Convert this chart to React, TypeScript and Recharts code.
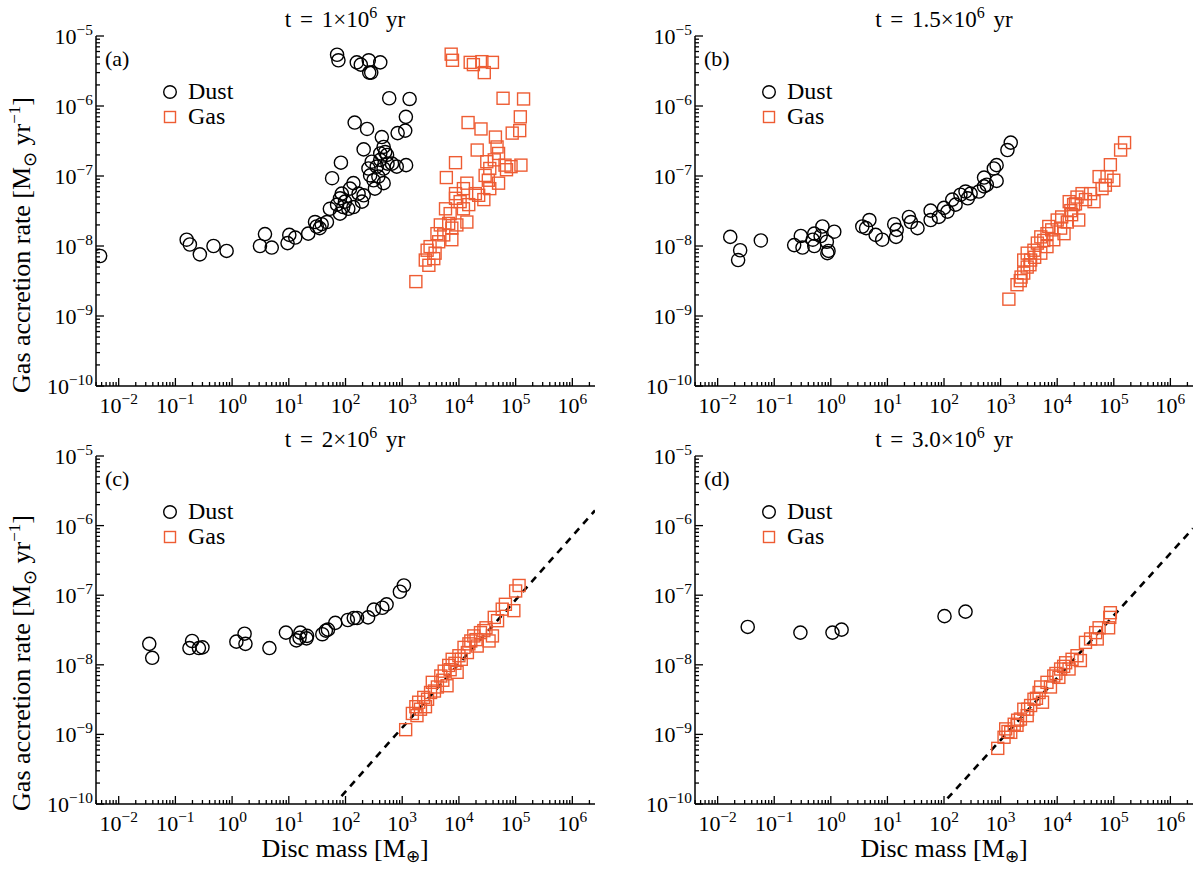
import React from 'react';
import { ScatterChart, Scatter, XAxis, YAxis, ReferenceLine, Legend } from 'recharts';

const FONT = '"Liberation Serif", "Times New Roman", serif';
const ORANGE = '#ee5c33';

// axis ranges and tick labels
const X_DOMAIN = [0.00398, 2.51e6];
const Y_DOMAIN = [1e-10, 1e-5];
const X_MAJOR = [1e-2, 1e-1, 1, 10, 100, 1e3, 1e4, 1e5, 1e6];
const X_EXP = ['−2', '−1', '0', '1', '2', '3', '4', '5', '6'];
const Y_MAJOR = [1e-10, 1e-9, 1e-8, 1e-7, 1e-6, 1e-5];
const Y_EXP = ['−10', '−9', '−8', '−7', '−6', '−5'];

// [disc mass (M_earth), accretion rate (M_sun/yr)]
const dustA = [
  [71, 5.4e-6], [75, 4.5e-6], [158, 4.2e-6], [186, 3.9e-6], [257, 4.5e-6], [284, 3.0e-6], [262, 3.0e-6], [410, 4.2e-6],
  [590, 1.29e-6], [1350, 1.26e-6], [1160, 7.0e-7], [1130, 4.45e-7], [830, 4.1e-7], [145, 5.8e-7], [240, 4.7e-7], [437, 3.6e-7],
  [209, 2.4e-7], [470, 2.6e-7], [500, 2.2e-7], [540, 2.0e-7], [410, 2.1e-7], [83, 1.55e-7], [58, 9.3e-8], [290, 1.6e-7],
  [410, 1.7e-7], [660, 1.5e-7], [550, 1.5e-7], [800, 1.36e-7], [1170, 1.43e-7], [355, 1.36e-7], [470, 1.28e-7], [254, 1.28e-7],
  [272, 1.02e-7], [380, 9.8e-8], [312, 8.7e-8], [470, 7.9e-8], [330, 6.6e-8], [138, 7.9e-8], [120, 6.6e-8], [86, 5.6e-8],
  [80, 4.8e-8], [98, 4.3e-8], [170, 5.6e-8], [209, 5.3e-8], [195, 4.3e-8], [138, 3.6e-8], [112, 3.4e-8], [80, 2.9e-8],
  [71, 3.9e-8], [53, 3.4e-8], [91, 3.6e-8], [47, 2.2e-8], [38, 2.05e-8], [31, 1.9e-8], [29, 2.2e-8], [35, 1.8e-8],
  [22, 1.5e-8], [13, 1.32e-8], [10.2, 1.44e-8], [9.5, 1.1e-8], [3.8, 1.48e-8], [3.1, 1.0e-8], [5.0, 9.5e-9],
  [0.158, 1.23e-8], [0.18, 1.05e-8], [0.27, 7.6e-9], [0.47, 1.0e-8], [0.8, 8.5e-9], [0.0047, 7.2e-9],
];
const gasA = [
  [7300, 5.5e-6], [7700, 4.5e-6], [15800, 4.2e-6], [18000, 3.9e-6], [25400, 4.3e-6], [28000, 3.0e-6], [39000, 4.2e-6],
  [60000, 1.29e-6], [138000, 1.26e-6], [121000, 7.0e-7], [118000, 4.45e-7], [87000, 4.1e-7], [14500, 5.8e-7], [24500, 4.7e-7],
  [44000, 3.6e-7], [21000, 2.35e-7], [47000, 2.6e-7], [50000, 2.1e-7], [8700, 1.55e-7], [6000, 9.5e-8], [31000, 1.6e-7],
  [42000, 1.7e-7], [65000, 1.43e-7], [83000, 1.36e-7], [124000, 1.43e-7], [69000, 1.23e-7], [35000, 1.28e-7], [29000, 1.02e-7],
  [33000, 8.7e-8], [50000, 7.9e-8], [13800, 7.9e-8], [12000, 6.6e-8], [35000, 6.6e-8], [8700, 5.6e-8], [8700, 4.8e-8],
  [10500, 4.3e-8], [19500, 5.6e-8], [22300, 5.3e-8], [27500, 4.6e-8], [14900, 3.9e-8], [12000, 3.4e-8], [5800, 3.4e-8],
  [7000, 2.9e-8], [13800, 2.2e-8], [9200, 2.0e-8], [7500, 1.8e-8], [6600, 2.1e-8], [4700, 2.0e-8], [5400, 1.44e-8],
  [4100, 1.5e-8], [7500, 1.23e-8], [4400, 1.15e-8], [3100, 9.8e-9], [2750, 8.7e-9], [3800, 7.9e-9], [2550, 6.3e-9],
  [2950, 5.3e-9], [3600, 6.6e-9], [1740, 3.1e-9],
];
const dustB = [
  [0.0167, 1.35e-8], [0.025, 8.7e-9], [0.023, 6.3e-9], [0.058, 1.2e-8], [0.225, 1.03e-8], [0.295, 1.39e-8], [0.316, 9.5e-9],
  [0.48, 1.23e-8], [0.51, 1.0e-8], [0.51, 1.5e-8], [0.71, 1.9e-8], [0.66, 1.39e-8], [0.85, 1.15e-8], [0.91, 8.5e-9],
  [0.87, 7.9e-9], [1.15, 1.6e-8], [3.6, 1.9e-8], [4.8, 2.35e-8], [4.2, 1.8e-8], [6.2, 1.44e-8], [8.1, 1.23e-8],
  [13.2, 2.05e-8], [14.6, 1.7e-8], [14.2, 1.35e-8], [24, 2.6e-8], [26, 2.2e-8], [34, 1.8e-8], [58, 3.2e-8], [58, 2.35e-8],
  [81, 2.6e-8], [100, 3.5e-8], [115, 3.1e-8], [140, 4.6e-8], [160, 3.9e-8], [195, 5.4e-8], [240, 6.0e-8], [263, 4.8e-8],
  [295, 5.6e-8], [415, 6.0e-8], [510, 7.1e-8], [570, 7.5e-8], [510, 9.5e-8], [850, 8.5e-8], [760, 1.28e-7], [850, 1.43e-7],
  [1320, 2.35e-7], [1510, 3.0e-7],
];
const gasB = [
  [1400, 1.74e-9], [1950, 2.8e-9], [2230, 3.2e-9], [2560, 4.1e-9], [2950, 5.0e-9], [2560, 6.3e-9], [3390, 6.3e-9],
  [2950, 7.9e-9], [3880, 8.7e-9], [4460, 1.1e-8], [5130, 7.9e-9], [5130, 1.35e-8], [6600, 1.5e-8], [7100, 1.9e-8],
  [6600, 9.8e-9], [8700, 1.23e-8], [10000, 2.35e-8], [11500, 1.8e-8], [13200, 1.5e-8], [15100, 2.2e-8], [17400, 3.2e-8],
  [16300, 4.3e-8], [19500, 3.9e-8], [22400, 5.0e-8], [24000, 2.35e-8], [27500, 5.6e-8], [31600, 4.6e-8], [38900, 5.6e-8],
  [44700, 4.3e-8], [55000, 9.8e-8], [62000, 6.6e-8], [71000, 7.4e-8], [76000, 9.8e-8], [87000, 1.45e-7], [100000, 8.7e-8],
  [132000, 2.35e-7], [155000, 3.0e-7], [2300, 3.6e-9], [3300, 5.4e-9], [4000, 6.9e-9], [5800, 1.2e-8], [8000, 1.7e-8],
  [12000, 2.6e-8], [18000, 2.8e-8], [21000, 4.0e-8],
];
const dustC = [
  [0.0346, 2.0e-8], [0.039, 1.26e-8], [0.197, 2.2e-8], [0.177, 1.74e-8], [0.26, 1.74e-8], [0.30, 1.78e-8], [1.19, 2.15e-8],
  [1.66, 2.8e-8], [1.72, 2.0e-8], [4.55, 1.74e-8], [8.9, 2.9e-8], [13.6, 2.24e-8], [16, 2.9e-8], [15.5, 2.45e-8],
  [21, 2.6e-8], [20.5, 2.4e-8], [39, 2.75e-8], [45, 3.1e-8], [49, 3.2e-8], [66, 4.0e-8], [110, 4.4e-8], [140, 4.7e-8],
  [160, 4.7e-8], [250, 4.8e-8], [316, 6.2e-8], [445, 6.6e-8], [530, 7.4e-8], [910, 1.12e-7], [1070, 1.38e-7],
];
const gasC = [
  [1150, 1.17e-9], [1510, 2.0e-9], [1740, 2.5e-9], [1950, 2.9e-9], [1820, 1.86e-9], [2400, 3.4e-9], [2570, 2.5e-9],
  [3160, 4.0e-9], [3390, 5.6e-9], [4170, 4.8e-9], [4790, 6.9e-9], [5500, 8.1e-9], [6170, 5.0e-9], [6600, 9.8e-9],
  [7600, 1.2e-8], [9300, 7.8e-9], [10000, 1.35e-8], [12300, 1.78e-8], [14100, 1.5e-8], [16200, 2.2e-8], [18300, 2.6e-8],
  [21000, 1.86e-8], [24000, 2.9e-8], [27500, 3.1e-8], [34000, 2.2e-8], [39000, 2.6e-8], [42000, 4.8e-8], [48000, 4.3e-8],
  [58000, 6.3e-8], [66000, 7.4e-8], [93000, 6.0e-8], [100000, 1.15e-7], [115000, 1.38e-7], [2100, 2.3e-9], [2800, 3.2e-9],
  [3700, 4.2e-9], [5200, 6.0e-9], [7000, 8.5e-9], [8500, 1.05e-8], [11000, 1.2e-8], [15000, 2.0e-8], [20000, 2.3e-8],
  [30000, 3.4e-8],
];
const dustD = [
  [0.034, 3.5e-8], [0.29, 2.9e-8], [1.07, 2.9e-8], [1.55, 3.2e-8], [102, 5.0e-8], [240, 5.8e-8],
];
const gasD = [
  [890, 6.3e-10], [1150, 9.1e-10], [1230, 1.2e-9], [1510, 1.07e-9], [1740, 1.4e-9], [1950, 1.35e-9], [2240, 1.66e-9],
  [2570, 2.3e-9], [2950, 1.86e-9], [3390, 2.6e-9], [3890, 3.2e-9], [4790, 4.0e-9], [5500, 2.9e-9], [5100, 4.8e-9],
  [6600, 5.6e-9], [7600, 4.8e-9], [8700, 6.9e-9], [10700, 6.6e-9], [11500, 8.7e-9], [14100, 1.07e-8], [16200, 8.7e-9],
  [18300, 1.2e-8], [22400, 1.35e-8], [25700, 1.15e-8], [31600, 2.1e-8], [38900, 2.35e-8], [47800, 2.9e-8], [55000, 3.4e-8],
  [51000, 2.35e-8], [81000, 3.4e-8], [87000, 5.6e-8], [85000, 4.8e-8], [1350, 1.1e-9], [2000, 1.6e-9], [3000, 2.3e-9],
  [4300, 3.3e-9], [9500, 7.5e-9], [13000, 9.5e-9],
];
// dashed power-law guide lines, endpoints [mass, rate]
const fitC = [[85, 1.3e-10], [2.51e6, 1.65e-6]];
const fitD = [[115, 1.2e-10], [2.51e6, 9.1e-7]];

const minorTicks = (decades: number[], lo: number, hi: number) => {
  const out: number[] = [];
  decades.forEach(d => [2, 3, 4, 5, 6, 7, 8, 9].forEach(k => { const v = d * k; if (v > lo && v < hi) out.push(v); }));
  return out;
};
const X_TICKS = [...X_MAJOR, ...minorTicks([1e-3, ...X_MAJOR], X_DOMAIN[0], X_DOMAIN[1])];
const Y_TICKS = [...Y_MAJOR, ...minorTicks(Y_MAJOR, Y_DOMAIN[0], Y_DOMAIN[1])];

const rows = (pts: number[][]) => pts.map(([m, r]) => ({ m, r }));

const MAJOR_LEN = 8;
const MINOR_LEN = 4;
const TICK_FONT = 22;

const Sup = ({ base, exp, size }: { base: string; exp: string; size: number }) => (
  <>
    {base}
    <tspan dy={-size * 0.42} fontSize={size * 0.7}>{exp}</tspan>
  </>
);

const BottomTick = (p: any) => {
  const i = X_MAJOR.indexOf(p.payload.value);
  return (
    <g>
      <line x1={p.x} x2={p.x} y1={p.y} y2={p.y - (i >= 0 ? MAJOR_LEN : MINOR_LEN)} stroke="#000" strokeWidth={1.3} />
      {i >= 0 && (
        <text x={p.x} y={p.y + 27} textAnchor="middle" fontFamily={FONT} fontSize={TICK_FONT} fill="#000">
          <Sup base="10" exp={X_EXP[i]} size={TICK_FONT} />
        </text>
      )}
    </g>
  );
};
const TopTick = (p: any) => {
  const major = X_MAJOR.indexOf(p.payload.value) >= 0;
  return <line x1={p.x} x2={p.x} y1={p.y} y2={p.y + (major ? MAJOR_LEN : MINOR_LEN)} stroke="#000" strokeWidth={1.3} />;
};
const LeftTick = (p: any) => {
  const i = Y_MAJOR.indexOf(p.payload.value);
  return (
    <g>
      <line x1={p.x} x2={p.x + (i >= 0 ? MAJOR_LEN : MINOR_LEN)} y1={p.y} y2={p.y} stroke="#000" strokeWidth={1.3} />
      {i >= 0 && (
        <text x={p.x - 3} y={p.y + 8} textAnchor="end" fontFamily={FONT} fontSize={TICK_FONT} fill="#000">
          <Sup base="10" exp={Y_EXP[i]} size={TICK_FONT} />
        </text>
      )}
    </g>
  );
};
const RightTick = (p: any) => {
  const major = Y_MAJOR.indexOf(p.payload.value) >= 0;
  return <line x1={p.x} x2={p.x - (major ? MAJOR_LEN : MINOR_LEN)} y1={p.y} y2={p.y} stroke="#000" strokeWidth={1.3} />;
};

const Ring = (p: any) => <circle cx={p.cx} cy={p.cy} r={6.6} fill="none" stroke="#000" strokeWidth={1.4} />;
const Box = (p: any) => <rect x={p.cx - 6} y={p.cy - 6} width={12} height={12} fill="none" stroke={ORANGE} strokeWidth={1.4} />;

const LegendBox = () => (
  <div style={{ fontFamily: FONT, fontSize: 24, lineHeight: '25px', color: '#000' }}>
    <div style={{ display: 'flex', alignItems: 'center' }}>
      <svg width={16} height={16}><circle cx={8} cy={8} r={6.3} fill="none" stroke="#000" strokeWidth={1.4} /></svg>
      <span style={{ marginLeft: 10 }}>Dust</span>
    </div>
    <div style={{ display: 'flex', alignItems: 'center' }}>
      <svg width={16} height={16}><rect x={2.5} y={2.5} width={11} height={11} fill="none" stroke={ORANGE} strokeWidth={1.4} /></svg>
      <span style={{ marginLeft: 10 }}>Gas</span>
    </div>
  </div>
);

const axisLine = { stroke: '#000', strokeWidth: 1.5 };

type PanelProps = {
  left: number; top: number; width: number; height: number;
  plotLeft: number; plotTop: number; plotRight: number; plotBottom: number;
  dust: number[][]; gas: number[][]; fit?: number[][];
};

function Panel({ left, top, width, height, plotLeft, plotTop, plotRight, plotBottom, dust, gas, fit }: PanelProps) {
  const common = { type: 'number' as const, scale: 'log' as const, allowDataOverflow: true, interval: 0 as const, tickLine: false, tickSize: 0, tickMargin: 0, axisLine };
  return (
    <div style={{ position: 'absolute', left, top }}>
      <ScatterChart width={width} height={height} margin={{ top: plotTop, right: width - plotRight, bottom: 0, left: 0 }}>
        <XAxis {...common} xAxisId="b" dataKey="m" domain={X_DOMAIN} ticks={X_TICKS} tick={<BottomTick />} height={height - plotBottom} />
        <XAxis {...common} xAxisId="t" orientation="top" domain={X_DOMAIN} ticks={X_TICKS} tick={<TopTick />} height={0} />
        <YAxis {...common} yAxisId="l" dataKey="r" domain={Y_DOMAIN} ticks={Y_TICKS} tick={<LeftTick />} width={plotLeft} />
        <YAxis {...common} yAxisId="r" orientation="right" domain={Y_DOMAIN} ticks={Y_TICKS} tick={<RightTick />} width={0} />
        {fit && (
          <ReferenceLine xAxisId="b" yAxisId="l" segment={fit.map(([x, y]) => ({ x, y }))} stroke="#000" strokeWidth={2.6} strokeDasharray="7 6" ifOverflow="hidden" />
        )}
        <Scatter xAxisId="b" yAxisId="l" name="Gas" data={rows(gas)} shape={Box} fill={ORANGE} isAnimationActive={false} />
        <Scatter xAxisId="b" yAxisId="l" name="Dust" data={rows(dust)} shape={Ring} fill="#000" isAnimationActive={false} />
        <Legend layout="vertical" align="center" verticalAlign="middle" content={<LegendBox />}
          wrapperStyle={{ left: plotLeft + 66, top: plotTop + 43, width: 'auto' }} />
      </ScatterChart>
    </div>
  );
}

const Title = ({ x, y, mant }: { x: number; y: number; mant: string }) => (
  <text x={x} y={y} textAnchor="middle" fontFamily={FONT} fontSize={23} wordSpacing={3}>
    {`t = ${mant}×10`}<tspan dy={-9} fontSize={16}>6</tspan><tspan dy={9}> yr</tspan>
  </text>
);

const YTitle = ({ cy }: { cy: number }) => (
  <text transform={`translate(30,${cy}) rotate(-90)`} textAnchor="middle" fontFamily={FONT} fontSize={26}>
    Gas accretion rate [M<tspan dy={6} fontSize={18}>⊙</tspan><tspan dy={-6}> yr</tspan><tspan dy={-10} fontSize={17}>−1</tspan><tspan dy={10}>]</tspan>
  </text>
);

const XTitle = ({ cx }: { cx: number }) => (
  <text x={cx} y={857} textAnchor="middle" fontFamily={FONT} fontSize={26}>
    Disc mass [M<tspan dy={5} fontSize={17}>⊕</tspan><tspan dy={-5}>]</tspan>
  </text>
);

export default function App() {
  return (
    <div style={{ position: 'absolute', left: 0, top: 0, width: 1200, height: 869, background: '#fff', fontFamily: FONT }}>
      <Panel left={0} top={0} width={600} height={430} plotLeft={96} plotTop={36} plotRight={595} plotBottom={386} dust={dustA} gas={gasA} />
      <Panel left={600} top={0} width={600} height={430} plotLeft={95} plotTop={36} plotRight={593} plotBottom={386} dust={dustB} gas={gasB} />
      <Panel left={0} top={430} width={600} height={439} plotLeft={96} plotTop={26} plotRight={595} plotBottom={374} dust={dustC} gas={gasC} fit={fitC} />
      <Panel left={600} top={430} width={600} height={439} plotLeft={95} plotTop={26} plotRight={593} plotBottom={374} dust={dustD} gas={gasD} fit={fitD} />
      <svg width={1200} height={869} style={{ position: 'absolute', left: 0, top: 0, pointerEvents: 'none' }}>
        <Title x={345} y={27} mant="1" />
        <Title x={944} y={27} mant="1.5" />
        <Title x={345} y={447} mant="2" />
        <Title x={944} y={447} mant="3.0" />
        <text x={105} y={66} fontFamily={FONT} fontSize={22}>(a)</text>
        <text x={704} y={66} fontFamily={FONT} fontSize={22}>(b)</text>
        <text x={105} y={486} fontFamily={FONT} fontSize={22}>(c)</text>
        <text x={704} y={486} fontFamily={FONT} fontSize={22}>(d)</text>
        <YTitle cy={245} />
        <YTitle cy={663} />
        <XTitle cx={345} />
        <XTitle cx={944} />
      </svg>
    </div>
  );
}
